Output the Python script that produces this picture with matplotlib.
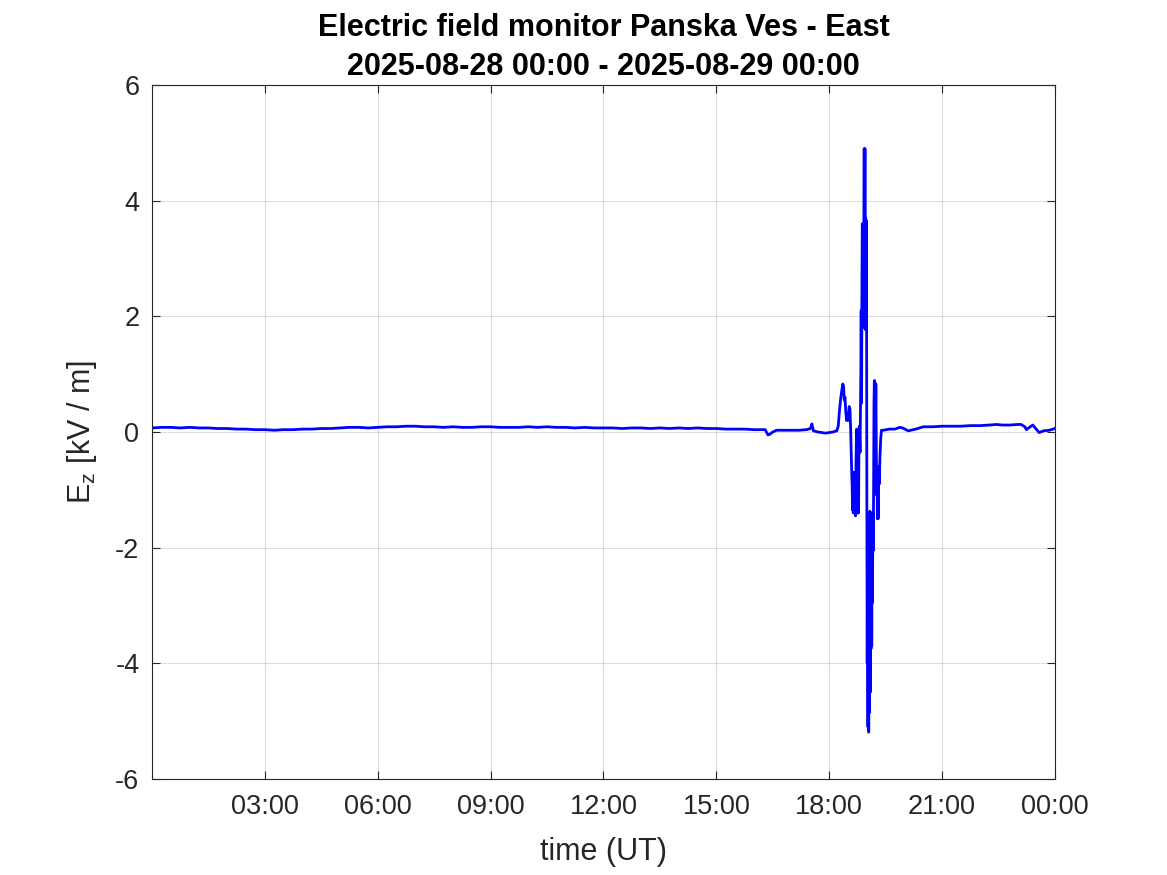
import matplotlib
matplotlib.use("Agg")
import matplotlib.pyplot as plt
import numpy as np

# hours since 2025-08-28 00:00 UT and Ez in kV/m
hours_quiet = [0.0, 0.25, 0.5, 0.75, 1.0, 1.25, 1.5, 1.75, 2.0, 2.25, 2.5, 2.75, 3.0, 3.25,
               3.5, 3.75, 4.0, 4.25, 4.5, 4.75, 5.0, 5.25, 5.5, 5.75, 6.0, 6.25, 6.5, 6.75,
               7.0, 7.25, 7.5, 7.75, 8.0, 8.25, 8.5, 8.75, 9.0, 9.25, 9.5, 9.75, 10.0, 10.25,
               10.5, 10.75, 11.0, 11.25, 11.5, 11.75, 12.0, 12.25, 12.5, 12.75, 13.0, 13.25,
               13.5, 13.75, 14.0, 14.25, 14.5, 14.75, 15.0, 15.25, 15.5, 15.75, 16.0, 16.3,
               16.37, 16.42, 16.5, 16.6, 16.8, 17.0, 17.2, 17.4, 17.5, 17.54, 17.58, 17.7,
               17.9, 18.1]
ez_quiet = [0.07, 0.08, 0.08, 0.07, 0.08, 0.07, 0.07, 0.06, 0.06, 0.05, 0.05, 0.04, 0.04, 0.03,
            0.04, 0.04, 0.05, 0.05, 0.06, 0.06, 0.07, 0.08, 0.08, 0.07, 0.08, 0.09, 0.09, 0.10,
            0.10, 0.09, 0.09, 0.08, 0.09, 0.08, 0.08, 0.09, 0.09, 0.08, 0.08, 0.08, 0.09, 0.08,
            0.09, 0.08, 0.08, 0.07, 0.08, 0.07, 0.07, 0.07, 0.06, 0.07, 0.07, 0.06, 0.07, 0.06,
            0.07, 0.06, 0.07, 0.06, 0.06, 0.05, 0.05, 0.05, 0.04, 0.04,
            -0.05, -0.04, 0.0, 0.03, 0.03, 0.03, 0.03, 0.04, 0.06, 0.14, 0.02, 0.0,
            -0.02, 0.0]

hours_storm = [18.20, 18.24, 18.27, 18.30, 18.33, 18.36, 18.38, 18.40, 18.42, 18.44, 18.46,
               18.48, 18.50, 18.53, 18.55, 18.57, 18.59, 18.61, 18.62, 18.63, 18.64, 18.65,
               18.66, 18.67, 18.68, 18.69, 18.70, 18.71, 18.72, 18.73, 18.74, 18.75, 18.76,
               18.77, 18.78, 18.79, 18.80, 18.82, 18.84, 18.85, 18.86, 18.87, 18.88, 18.89,
               18.90, 18.91, 18.92, 18.93, 18.94, 18.95, 18.96, 18.97, 18.98, 18.99, 19.00,
               19.01, 19.02, 19.03, 19.04, 19.05, 19.06, 19.07, 19.08, 19.09, 19.10, 19.11,
               19.12, 19.13, 19.14, 19.15, 19.16, 19.17, 19.18, 19.19, 19.20, 19.21, 19.22,
               19.23, 19.24, 19.25, 19.26, 19.27, 19.28, 19.29, 19.30, 19.31, 19.33, 19.35,
               19.37, 19.39]
ez_storm = [0.02, 0.10, 0.35, 0.55, 0.70, 0.83, 0.80, 0.55, 0.60, 0.35, 0.20,
            0.25, 0.20, 0.44, 0.40, 0.05, -0.50, -0.95, -1.35, -0.70, -1.40, -0.70,
            -1.25, -0.70, -1.40, -0.90, -1.45, -0.70, -0.20, 0.05, -0.50, -1.30, -1.40,
            -0.80, -1.40, -0.30, 0.10, -0.35, 1.00, 2.10, 0.50, 2.60, 3.60, 1.80,
            3.55, 2.20, 3.65, 4.90, 2.50, 4.90, 1.77, 3.70, 1.80, 3.65, -1.00,
            -4.00, -2.00, -5.10, -1.40, -5.19, -2.50, -4.85, -1.37, -4.50, -1.50, -3.75,
            -1.40, -3.70, -2.00, -2.95, -1.40, -2.05, -1.00, 0.50, 0.89, -0.40, 0.85,
            0.20, 0.82, -0.30, -1.09, -0.60, -1.50, -0.80, -1.50, -0.60, -0.90, -0.40,
            -0.10, 0.03]

hours_after = [19.44, 19.6, 19.75, 19.87, 19.95, 20.1, 20.3, 20.5, 20.75, 21.0, 21.25, 21.5,
               21.75, 22.0, 22.25, 22.45, 22.6, 22.8, 23.0, 23.1, 23.2, 23.24, 23.3, 23.41,
               23.5, 23.58, 23.7, 23.85, 24.0]
ez_after = [0.03, 0.05, 0.05, 0.08, 0.07, 0.02, 0.05, 0.09, 0.09, 0.10, 0.10, 0.10,
            0.11, 0.11, 0.12, 0.13, 0.12, 0.12, 0.13, 0.13, 0.09, 0.04, 0.07, 0.12,
            0.05, -0.01, 0.02, 0.03, 0.06]

x_ticks = [3, 6, 9, 12, 15, 18, 21, 24]
x_labels = ["03:00", "06:00", "09:00", "12:00", "15:00", "18:00", "21:00", "00:00"]
y_ticks = [-6, -4, -2, 0, 2, 4, 6]

plt.rcParams['font.family'] = ['Liberation Sans', 'DejaVu Sans']
plt.rcParams['mathtext.fontset'] = 'custom'
plt.rcParams['mathtext.rm'] = 'Liberation Sans'
plt.rcParams['axes.unicode_minus'] = False

hours = np.array(hours_quiet + hours_storm + hours_after)
ez = np.array(ez_quiet + ez_storm + ez_after)

fig = plt.figure(figsize=(11.67, 8.75), dpi=100)
ax = fig.add_axes([0.1302, 0.1097, 0.7738, 0.7932])
ax.plot(hours, ez, color=(0, 0, 1), linewidth=2.0)

gray = (0.15, 0.15, 0.15)
ax.set_xlim(0, 24)
ax.set_ylim(-6, 6)
ax.set_xticks(x_ticks)
ax.set_xticklabels(x_labels)
ax.set_yticks(y_ticks)
ax.grid(True, color=gray, alpha=0.15, linewidth=0.8)
ax.tick_params(direction='in', length=6, width=0.8, colors=gray, labelsize=19.5,
               top=True, right=True)
ax.tick_params(axis='x', pad=11)
ax.tick_params(axis='y', pad=9)
for s in ax.spines.values():
    s.set_color(gray)
    s.set_linewidth(0.8)

ax.set_xlabel('time (UT)', fontsize=22, color=gray, labelpad=12)
ax.set_ylabel(r'E$_\mathregular{z}$ [kV / m]', fontsize=22, color=gray, labelpad=12)
ax.set_title('Electric field monitor Panska Ves - East\n2025-08-28 00:00 - 2025-08-29 00:00',
             fontsize=22, fontweight='bold', linespacing=1.42, pad=7)

fig.savefig('out.png', dpi=100)
